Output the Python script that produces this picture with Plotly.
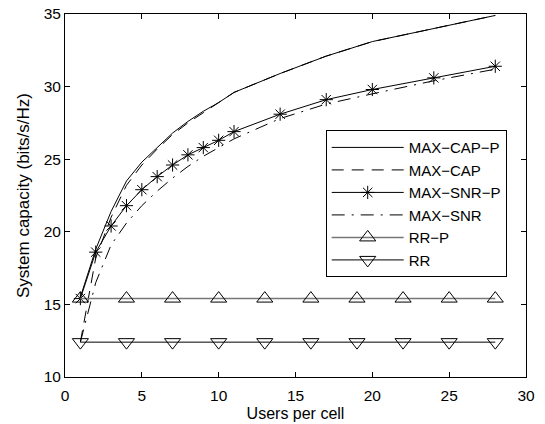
import plotly.graph_objects as go

# ---- data ----
x_main = [1, 2, 3, 4, 5, 6, 7, 8, 9, 10, 11, 14, 17, 20, 24, 28]
max_cap_p = [15.5, 18.8, 21.4, 23.5, 24.8, 25.8, 26.8, 27.6, 28.3, 28.9, 29.6, 30.9, 32.1, 33.1, 34.0, 34.9]
max_cap = [12.4, 18.2, 21.0, 23.2, 24.6, 25.7, 26.7, 27.5, 28.2, 28.9, 29.6, 30.9, 32.1, 33.1, 34.0, 34.9]
max_snr_p = [15.4, 18.6, 20.4, 21.8, 22.9, 23.8, 24.6, 25.3, 25.8, 26.3, 26.9, 28.1, 29.1, 29.8, 30.6, 31.4]
max_snr = [12.4, 16.5, 19.1, 20.6, 21.8, 22.8, 23.7, 24.5, 25.2, 25.8, 26.4, 27.8, 28.8, 29.5, 30.4, 31.2]
x_rr = [1, 4, 7, 10, 13, 16, 19, 22, 25, 28]
rr_p = [15.4] * 10
rr = [12.4] * 10

FONT = "Liberation Sans, Arial, sans-serif"

fig = go.Figure()
fig.add_trace(go.Scatter(x=x_main, y=max_cap_p, name="MAX−CAP−P", mode="lines",
                         line=dict(color="black", width=1)))
fig.add_trace(go.Scatter(x=x_main, y=max_cap, name="MAX−CAP", mode="lines",
                         line=dict(color="black", width=1, dash="12px,8px")))
fig.add_trace(go.Scatter(x=x_main, y=max_snr_p, name="MAX−SNR−P", mode="lines+markers",
                         line=dict(color="black", width=1),
                         marker=dict(symbol="asterisk-open", size=11,
                                     line=dict(color="#222222", width=1))))
fig.add_trace(go.Scatter(x=x_main, y=max_snr, name="MAX−SNR", mode="lines",
                         line=dict(color="black", width=1, dash="13px,7px,2px,7px")))
fig.add_trace(go.Scatter(x=x_rr, y=rr_p, name="RR−P", mode="lines+markers",
                         line=dict(color="#777777", width=1.5),
                         marker=dict(symbol="triangle-up-open", size=14, color="black",
                                     line=dict(color="black", width=1))))
fig.add_trace(go.Scatter(x=x_rr, y=rr, name="RR", mode="lines+markers",
                         line=dict(color="black", width=1),
                         marker=dict(symbol="triangle-down-open", size=14, color="black",
                                     line=dict(color="black", width=1))))

axis_common = dict(showline=True, linecolor="black", linewidth=1, mirror="ticks",
                   ticks="inside", ticklen=5, tickcolor="black", showgrid=False,
                   zeroline=False, automargin=False,
                   tickfont=dict(family=FONT, size=15.5, color="black"))

fig.update_layout(
    template="none",
    width=545, height=424,
    margin=dict(l=65, r=19, t=14, b=47, autoexpand=False),
    plot_bgcolor="white", paper_bgcolor="white",
    font=dict(family=FONT, size=16, color="black"),
    xaxis=dict(range=[0, 30], dtick=5, ticklabelstandoff=4,
               title=dict(text="Users per cell", font=dict(family=FONT, size=16), standoff=5),
               **axis_common),
    yaxis=dict(range=[10, 35], dtick=5,
               title=dict(text="System capacity (bits/s/Hz)", font=dict(family=FONT, size=17), standoff=9),
               **axis_common),
    legend=dict(x=0.5655, y=0.680, xanchor="left", yanchor="top",
                bgcolor="white", bordercolor="black", borderwidth=1,
                itemwidth=72,
                font=dict(family=FONT, size=15, color="black"),
                tracegroupgap=0),
    showlegend=True,
)

fig.write_html("out.html", config={"displayModeBar": False},
               post_script="document.body.style.margin='0';")
